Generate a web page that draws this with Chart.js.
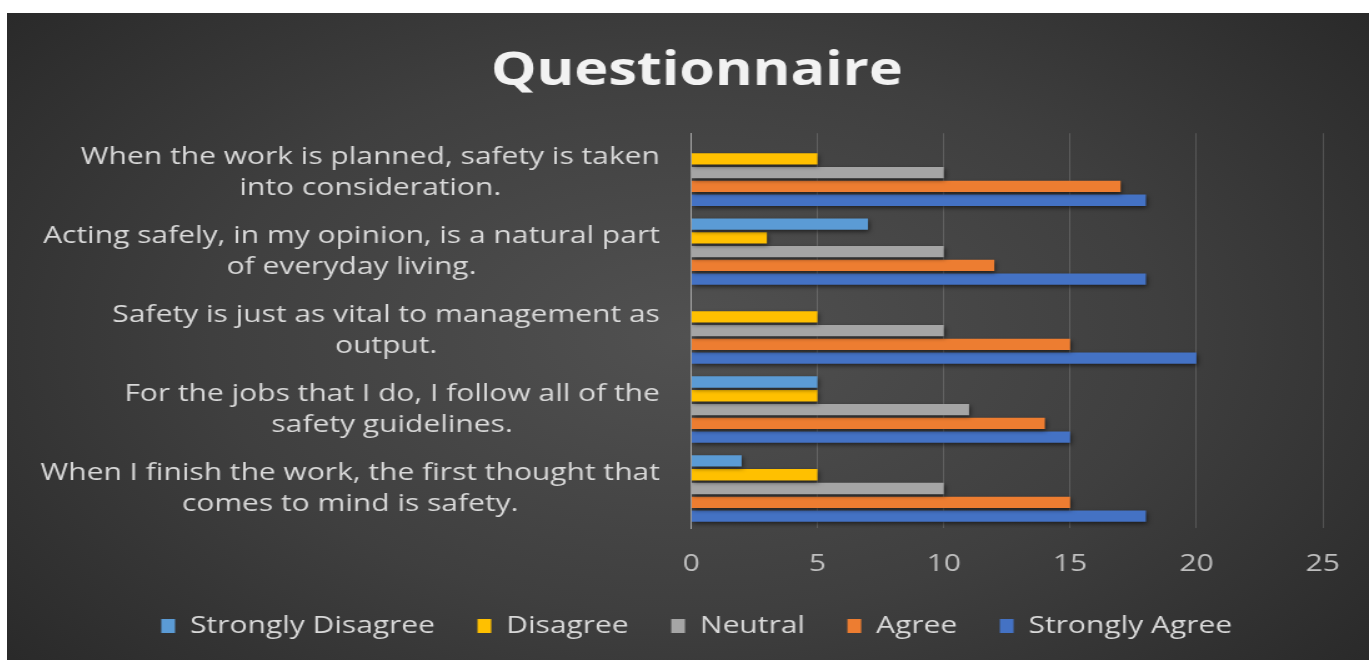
<!DOCTYPE html>
<html>
<head>
<meta charset="utf-8">
<script src="https://cdn.jsdelivr.net/npm/chart.js@4"></script>
<style>
  html, body { margin: 0; padding: 0; background: #ffffff; }
  #wrap {
    position: absolute;
    left: 7px; top: 13px;
    width: 1362px; height: 647px;
    overflow: hidden;
    background: radial-gradient(ellipse 70% 85% at 50% 50%, #515151 0%, #3f3f3f 50%, #262626 100%);
  }
  /* the original picture is stretched sideways, so is this one */
  #inner {
    width: 1090px; height: 647px;
    transform: scaleX(1.24954);
    transform-origin: 0 0;
  }
</style>
</head>
<body>
<div id="wrap"><div id="inner"><canvas id="chart"></canvas></div></div>
<script>
// categories, top to bottom as shown
const questions = [
    ['When the work is planned, safety is taken', 'into consideration.'],
    ['Acting safely, in my opinion, is a natural part', 'of everyday living.'],
    ['Safety is just as vital to management as', 'output.'],
    ['For the jobs that I do, I follow all of the', 'safety guidelines.'],
    ['When I finish the work, the first thought that', 'comes to mind is safety.']
];

const seriesNames = ['Strongly Disagree', 'Disagree', 'Neutral', 'Agree', 'Strongly Agree'];
const seriesColors = ['#5B9BD5', '#FFC000', '#A5A5A5', '#ED7D31', '#4472C4'];

const stronglyDisagree = [0, 7, 0, 5, 2];
const disagree = [5, 3, 5, 5, 5];
const neutral = [10, 10, 10, 11, 10];
const agree = [17, 12, 15, 14, 15];
const stronglyAgree = [18, 18, 20, 15, 18];

const xTicks = [0, 5, 10, 15, 20, 25];

const seriesValues = [stronglyDisagree, disagree, neutral, agree, stronglyAgree];

// soft shadow under the bars
const barShadow = {
    id: 'barShadow',
    beforeDatasetsDraw(chart) {
        const ctx = chart.ctx;
        ctx.save();
        ctx.shadowColor = 'rgba(0, 0, 0, 0.55)';
        ctx.shadowBlur = 4;
        ctx.shadowOffsetX = 1;
        ctx.shadowOffsetY = 2;
    },
    afterDatasetsDraw(chart) {
        chart.ctx.restore();
    }
};

// category labels: block right aligned, lines centred inside the block
const centredLabels = {
    id: 'centredLabels',
    afterDraw(chart) {
        const ctx = chart.ctx;
        const scale = chart.scales.y;
        const rightEdge = chart.chartArea.left - 25;
        const lineHeight = 31;
        ctx.save();
        ctx.font = '24px "Open Sans"';
        ctx.fillStyle = '#d9d9d9';
        ctx.textAlign = 'center';
        ctx.textBaseline = 'middle';
        questions.forEach((lines, i) => {
            const y = scale.getPixelForTick(i);
            const widest = Math.max(...lines.map(l => ctx.measureText(l).width));
            const cx = rightEdge - widest / 2;
            lines.forEach((line, j) => {
                ctx.fillText(line, cx, y + (j - (lines.length - 1) / 2) * lineHeight);
            });
        });
        ctx.restore();
    }
};

const ctx = document.getElementById('chart').getContext('2d');
new Chart(ctx, {
    type: 'bar',
    data: {
        labels: questions,
        datasets: seriesNames.map((name, i) => ({
            label: name,
            data: seriesValues[i],
            backgroundColor: seriesColors[i],
            borderWidth: 0,
            categoryPercentage: 0.873,
            barPercentage: 0.82
        }))
    },
    options: {
        indexAxis: 'y',
        responsive: true,
        maintainAspectRatio: false,
        animation: false,
        layout: {
            padding: { left: 51, right: 37, top: 0, bottom: 12 }
        },
        plugins: {
            title: {
                display: true,
                text: 'Questionnaire',
                color: '#f2f2f2',
                font: { family: '"Open Sans"', size: 46, weight: '700' },
                padding: { top: 31, bottom: 34 }
            },
            legend: {
                position: 'bottom',
                labels: {
                    color: '#d9d9d9',
                    font: { family: '"Open Sans"', size: 24 },
                    boxWidth: 11,
                    boxHeight: 14,
                    padding: 34
                }
            },
            tooltip: { enabled: false }
        },
        scales: {
            x: {
                min: 0,
                max: 25,
                afterBuildTicks(scale) {
                    scale.ticks = xTicks.map(v => ({ value: v }));
                },
                afterFit(scale) {
                    scale.height = 52;
                },
                ticks: {
                    color: '#bfbfbf',
                    font: { family: '"Open Sans"', size: 24 },
                    padding: 22
                },
                grid: {
                    color: 'rgba(255, 255, 255, 0.16)',
                    lineWidth: 1,
                    drawTicks: false
                },
                border: { display: false }
            },
            y: {
                afterFit(scale) {
                    scale.width = 496.5;
                },
                ticks: {
                    color: 'rgba(0, 0, 0, 0)',
                    font: { family: '"Open Sans"', size: 24 }
                },
                grid: { display: false },
                border: { display: true, color: '#a6a6a6', width: 1 }
            }
        }
    },
    plugins: [barShadow, centredLabels]
});
</script>
</body>
</html>
